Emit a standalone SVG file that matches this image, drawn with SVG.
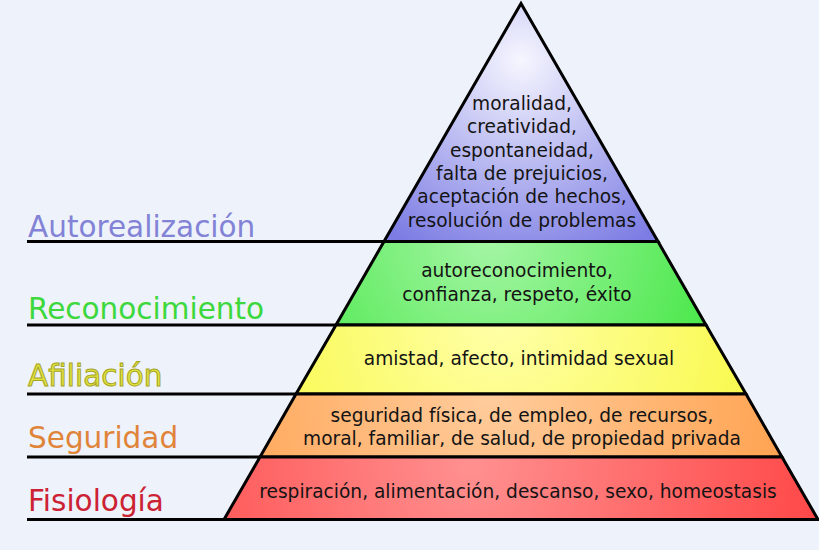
<svg xmlns="http://www.w3.org/2000/svg" width="819" height="550" viewBox="0 0 819 550">
<style>
.lbl{font-family:"DejaVu Sans","Liberation Sans",sans-serif;font-size:29.5px}
.t{font-family:"DejaVu Sans","Liberation Sans",sans-serif;font-size:18.6px;fill:#141414;text-anchor:middle}
.layer{stroke:#000;stroke-width:3;stroke-linejoin:miter}
.ln{stroke:#000;stroke-width:3;fill:none}
</style>
<defs>
<radialGradient id="gTop" gradientUnits="userSpaceOnUse" cx="521" cy="60" r="215">
<stop offset="0" stop-color="#f6f6ff"/><stop offset="1" stop-color="#7c7ce4"/>
</radialGradient>
<radialGradient id="gGreen" gradientUnits="userSpaceOnUse" cx="490" cy="235" r="260">
<stop offset="0" stop-color="#a6f6a6"/><stop offset="1" stop-color="#40e640"/>
</radialGradient>
<radialGradient id="gYellow" gradientUnits="userSpaceOnUse" cx="500" cy="320" r="300">
<stop offset="0" stop-color="#ffffa8"/><stop offset="1" stop-color="#f8f840"/>
</radialGradient>
<radialGradient id="gOrange" gradientUnits="userSpaceOnUse" cx="490" cy="395" r="320">
<stop offset="0" stop-color="#ffcc9c"/><stop offset="1" stop-color="#ffa04c"/>
</radialGradient>
<radialGradient id="gRed" gradientUnits="userSpaceOnUse" cx="470" cy="465" r="360">
<stop offset="0" stop-color="#ff9090"/><stop offset="1" stop-color="#ff4646"/>
</radialGradient>
</defs>
<rect width="819" height="550" fill="#eef2fa"/>
<g id="connectors">
<line class="ln" x1="27" y1="241.5" x2="384" y2="241.5"/>
<line class="ln" x1="27" y1="325" x2="336" y2="325"/>
<line class="ln" x1="27" y1="394" x2="296" y2="394"/>
<line class="ln" x1="27" y1="457" x2="260" y2="457"/>
<line class="ln" x1="27" y1="519.5" x2="224" y2="519.5"/>
</g>
<g id="autorealizacion">
<polygon class="layer" fill="url(#gTop)" points="521,3.5 658,241.5 384,241.5"/>
<text class="t"><tspan x="522" y="110">moralidad,</tspan><tspan x="522" y="133.3">creatividad,</tspan><tspan x="522" y="156.6">espontaneidad,</tspan><tspan x="522" y="179.9">falta de prejuicios,</tspan><tspan x="522" y="203.2">aceptación de hechos,</tspan><tspan x="522" y="226.5">resolución de problemas</tspan></text>
<text class="lbl" x="28" y="237" fill="#8282d6">Autorealización</text>
</g>
<g id="reconocimiento">
<polygon class="layer" fill="url(#gGreen)" points="384,241.5 658,241.5 706,325 336,325"/>
<text class="t"><tspan x="517" y="277">autoreconocimiento,</tspan><tspan x="517" y="300.5">confianza, respeto, éxito</tspan></text>
<text class="lbl" x="28" y="319" fill="#3cd83c">Reconocimiento</text>
</g>
<g id="afiliacion">
<polygon class="layer" fill="url(#gYellow)" points="336,325 706,325 746,394 296,394"/>
<text class="t" x="519" y="365">amistad, afecto, intimidad sexual</text>
<text class="lbl" x="28" y="386" fill="#e2e23e" stroke="#a6a626" stroke-width="1">Afiliación</text>
</g>
<g id="seguridad">
<polygon class="layer" fill="url(#gOrange)" points="296,394 746,394 782,457 260,457"/>
<text class="t"><tspan x="522" y="421.7">seguridad física, de empleo, de recursos,</tspan><tspan x="522" y="445">moral, familiar, de salud, de propiedad privada</tspan></text>
<text class="lbl" x="28" y="448" fill="#e0843a">Seguridad</text>
</g>
<g id="fisiologia">
<polygon class="layer" fill="url(#gRed)" points="260,457 782,457 818,519.5 224,519.5"/>
<text class="t" x="518" y="497.5">respiración, alimentación, descanso, sexo, homeostasis</text>
<text class="lbl" x="28" y="510.5" fill="#cc2233">Fisiología</text>
</g>
</svg>
